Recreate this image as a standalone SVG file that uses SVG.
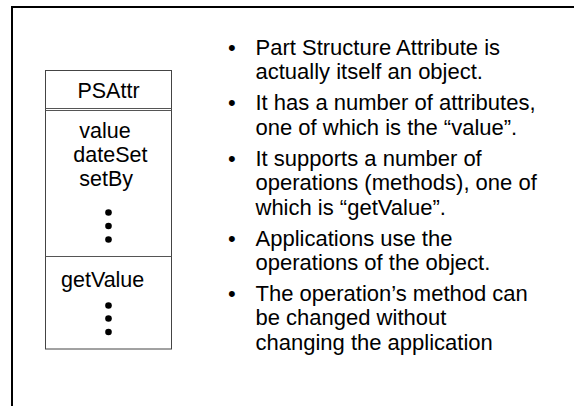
<svg xmlns="http://www.w3.org/2000/svg" width="574" height="406" viewBox="0 0 574 406">
  <style>
    .frame { fill: none; stroke: #000; stroke-width: 2; }
    .box { fill: #fff; stroke: #444; stroke-width: 1; }
    .sep { stroke: #555; stroke-width: 1; }
    .cls { font-family: "Liberation Sans", Arial, sans-serif; font-size: 21.5px; fill: #000; }
    .txt { font-family: "Liberation Sans", Arial, sans-serif; font-size: 22px; fill: #000; }
    .dot { fill: #000; }
  </style>

  <!-- slide frame (top and left edges) -->
  <path class="frame" d="M12 406 V7 H574"/>

  <!-- class box: PSAttr -->
  <g id="psattr">
    <rect class="box" x="45.5" y="70.5" width="126" height="278.5"/>
    <line class="sep" x1="45.5" y1="108.5" x2="171.5" y2="108.5"/>
    <line class="sep" x1="45.5" y1="110.5" x2="171.5" y2="110.5"/>
    <line class="sep" x1="45.5" y1="256.5" x2="171.5" y2="256.5"/>

    <text class="cls" x="108.5" y="97.5" text-anchor="middle">PSAttr</text>

    <text class="cls" x="79.3" y="137.5">value</text>
    <text class="cls" x="73.3" y="161.5">dateSet</text>
    <text class="cls" x="79.3" y="185.5">setBy</text>
    <circle class="dot" cx="108.5" cy="212.5" r="3.3"/>
    <circle class="dot" cx="108.5" cy="226" r="3.3"/>
    <circle class="dot" cx="108.5" cy="239.5" r="3.3"/>

    <text class="cls" x="61" y="287">getValue</text>
    <circle class="dot" cx="108.5" cy="305.5" r="3.3"/>
    <circle class="dot" cx="108.5" cy="318.5" r="3.3"/>
    <circle class="dot" cx="108.5" cy="332" r="3.3"/>
  </g>

  <!-- bullet list -->
  <g id="notes" class="txt">
    <text x="228" y="55">•</text>
    <text x="255.5" y="55">Part Structure Attribute is</text>
    <text x="255.5" y="79.4">actually itself an object.</text>

    <text x="228" y="110.4">•</text>
    <text x="255.5" y="110.4">It has a number of attributes,</text>
    <text x="255.5" y="134.8">one of which is the “value”.</text>

    <text x="228" y="165.8">•</text>
    <text x="255.5" y="165.8">It supports a number of</text>
    <text x="255.5" y="190.2">operations (methods), one of</text>
    <text x="255.5" y="214.6">which is “getValue”.</text>

    <text x="228" y="245.6">•</text>
    <text x="255.5" y="245.6">Applications use the</text>
    <text x="255.5" y="270">operations of the object.</text>

    <text x="228" y="301">•</text>
    <text x="255.5" y="301">The operation’s method can</text>
    <text x="255.5" y="325.4">be changed without</text>
    <text x="255.5" y="349.8">changing the application</text>
  </g>
</svg>
